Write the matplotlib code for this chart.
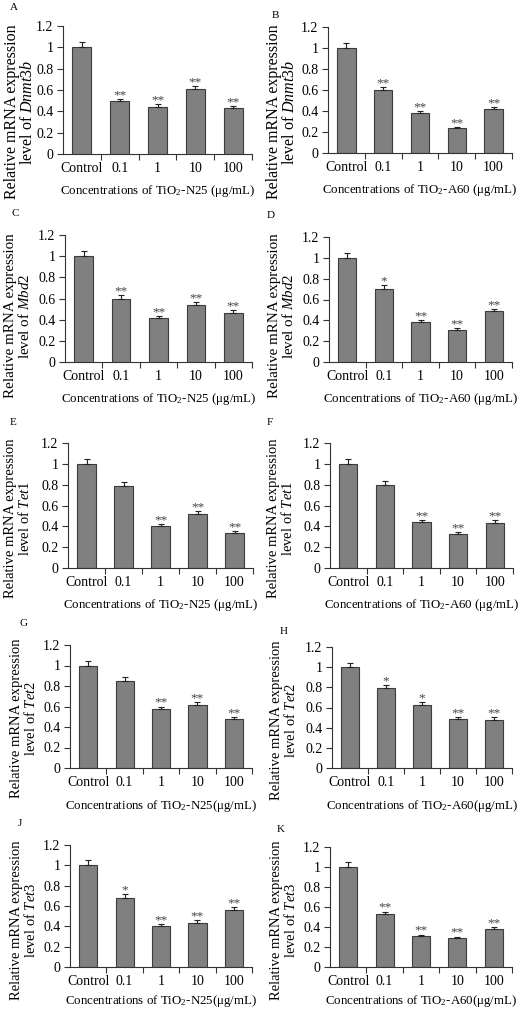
import matplotlib
matplotlib.use("Agg")
import matplotlib.pyplot as plt

plt.rcParams['font.family'] = ['Liberation Serif', 'DejaVu Serif']
plt.rcParams['mathtext.fontset'] = 'custom'
plt.rcParams['mathtext.rm'] = 'Liberation Serif'
plt.rcParams['mathtext.it'] = 'Liberation Serif:italic'

# dados
categories = ["Control", "0.1", "1", "10", "100"]
yticks = [0, 0.2, 0.4, 0.6, 0.8, 1.0, 1.2]
ytick_labels = ["0", "0.2", "0.4", "0.6", "0.8", "1", "1.2"]

dnmt3b_n25 = [1.00, 0.50, 0.44, 0.605, 0.43]
dnmt3b_n25_err = [0.05, 0.02, 0.025, 0.03, 0.02]
dnmt3b_n25_sig = ["", "**", "**", "**", "**"]

dnmt3b_a60 = [1.00, 0.60, 0.38, 0.24, 0.42]
dnmt3b_a60_err = [0.05, 0.03, 0.02, 0.01, 0.02]
dnmt3b_a60_sig = ["", "**", "**", "**", "**"]

mbd2_n25 = [1.00, 0.60, 0.415, 0.54, 0.465]
mbd2_n25_err = [0.05, 0.03, 0.02, 0.03, 0.025]
mbd2_n25_sig = ["", "**", "**", "**", "**"]

mbd2_a60 = [1.00, 0.70, 0.38, 0.31, 0.485]
mbd2_a60_err = [0.05, 0.035, 0.02, 0.015, 0.025]
mbd2_a60_sig = ["", "*", "**", "**", "**"]

tet1_n25 = [1.00, 0.79, 0.40, 0.52, 0.34]
tet1_n25_err = [0.05, 0.035, 0.02, 0.025, 0.015]
tet1_n25_sig = ["", "", "**", "**", "**"]

tet1_a60 = [1.00, 0.80, 0.44, 0.33, 0.435]
tet1_a60_err = [0.05, 0.035, 0.025, 0.015, 0.03]
tet1_a60_sig = ["", "", "**", "**", "**"]

tet2_n25 = [1.00, 0.85, 0.575, 0.61, 0.475]
tet2_n25_err = [0.045, 0.04, 0.025, 0.03, 0.025]
tet2_n25_sig = ["", "", "**", "**", "**"]

tet2_a60 = [1.00, 0.79, 0.625, 0.485, 0.48]
tet2_a60_err = [0.045, 0.035, 0.03, 0.025, 0.025]
tet2_a60_sig = ["", "*", "*", "**", "**"]

tet3_n25 = [1.00, 0.68, 0.40, 0.435, 0.565]
tet3_n25_err = [0.05, 0.035, 0.02, 0.025, 0.025]
tet3_n25_sig = ["", "*", "**", "**", "**"]

tet3_a60 = [1.00, 0.53, 0.31, 0.29, 0.38]
tet3_a60_err = [0.05, 0.025, 0.015, 0.015, 0.02]
tet3_a60_sig = ["", "**", "**", "**", "**"]

letters = ["A", "B", "C", "D", "E", "F", "G", "H", "J", "K"]
genes = ["Dnmt3b", "Dnmt3b", "Mbd2", "Mbd2", "Tet1", "Tet1", "Tet2", "Tet2", "Tet3", "Tet3"]
xlabels = ["Concentrations of TiO$_2$-N25 (\u03bcg/mL)", "Concentrations of TiO$_2$-A60 (\u03bcg/mL)",
           "Concentrations of TiO$_2$-N25 (\u03bcg/mL)", "Concentrations of TiO$_2$-A60 (\u03bcg/mL)",
           "Concentrations of TiO$_2$-N25 (\u03bcg/mL)", "Concentrations of TiO$_2$-A60 (\u03bcg/mL)",
           "Concentrations of TiO$_2$-N25(\u03bcg/mL)", "Concentrations of TiO$_2$-A60(\u03bcg/mL)",
           "Concentrations of TiO$_2$-N25(\u03bcg/mL)", "Concentrations of TiO$_2$-A60(\u03bcg/mL)"]
values = [dnmt3b_n25, dnmt3b_a60, mbd2_n25, mbd2_a60, tet1_n25, tet1_a60,
          tet2_n25, tet2_a60, tet3_n25, tet3_a60]
errors = [dnmt3b_n25_err, dnmt3b_a60_err, mbd2_n25_err, mbd2_a60_err, tet1_n25_err, tet1_a60_err,
          tet2_n25_err, tet2_a60_err, tet3_n25_err, tet3_a60_err]
signif = [dnmt3b_n25_sig, dnmt3b_a60_sig, mbd2_n25_sig, mbd2_a60_sig, tet1_n25_sig, tet1_a60_sig,
          tet2_n25_sig, tet2_a60_sig, tet3_n25_sig, tet3_a60_sig]

# layout em pixels (esquerda, topo, direita, base)
boxes = [(63, 26, 252, 154), (328, 27, 512, 153),
         (65, 235, 252, 362), (329, 237, 512, 362),
         (68, 443, 253, 568), (330, 443, 513, 568),
         (70, 645, 252, 768), (332, 647, 512, 768),
         (70, 845, 252, 967), (330, 847, 512, 967)]
letter_pos = [(10, 8), (272, 15), (12, 214), (267, 216), (10, 423), (267, 423),
              (20, 624), (280, 632), (18, 823), (277, 830)]
ylab_pos = [(20, 112), (282, 112), (18, 316), (282, 316), (18, 518), (281, 518),
            (24, 718), (284, 720), (24, 920), (284, 920)]
ylab_fs = [11.5, 11.5, 10.8, 10.8, 10.5, 10.5, 10.5, 10.5, 10.5, 10.5]
xlab_off = [37, 37, 37, 37, 37, 37, 38, 38, 34, 34]

W, H = 520, 1010
fig = plt.figure(figsize=(W / 100, H / 100), dpi=100)

for i in range(10):
    l, t, r, b = boxes[i]
    ax = fig.add_axes([l / W, 1 - b / H, (r - l) / W, (b - t) / H])
    x = list(range(len(categories)))
    ax.bar(x, values[i], width=0.5, color='#808080', edgecolor='#3c3c3c', linewidth=0.8,
           yerr=[[0] * 5, errors[i]], capsize=2.5,
           error_kw=dict(elinewidth=0.8, capthick=0.8, ecolor='#222222'))
    for xi, v, e, s in zip(x, values[i], errors[i], signif[i]):
        if s:
            ax.annotate(s, (xi, v + e), xytext=(0, 0.5), textcoords='offset points',
                        ha='center', va='baseline', fontsize=9.5, color='#444444')
    ax.set_xlim(-0.5, 4.5)
    ax.set_ylim(0, 1.2)
    ax.set_yticks(yticks)
    ax.set_yticklabels(ytick_labels, fontsize=10)
    ax.set_xticks(x)
    ax.set_xticklabels(categories, fontsize=10)
    ax.set_xticks([0.5, 1.5, 2.5, 3.5, 4.5], minor=True)
    ax.tick_params(axis='x', which='major', length=0, pad=6)
    ax.tick_params(axis='x', which='minor', length=4, direction='out', width=0.8, color='#333333')
    ax.tick_params(axis='y', length=4, direction='out', width=0.8, color='#333333', pad=3)
    ax.spines['top'].set_visible(False)
    ax.spines['right'].set_visible(False)
    for sp in ['left', 'bottom']:
        ax.spines[sp].set_linewidth(0.8)
        ax.spines[sp].set_color('#333333')
    ax.set_xlabel(xlabels[i], fontsize=9.3)
    ax.xaxis.set_label_coords(0.5, -xlab_off[i] / (b - t))
    ax.xaxis.label.set_va('center')

    fig.text(letter_pos[i][0] / W, 1 - letter_pos[i][1] / H, letters[i],
             fontsize=8, ha='left', va='center')
    fig.text(ylab_pos[i][0] / W, 1 - ylab_pos[i][1] / H,
             "Relative mRNA expression\nlevel of $\\mathit{" + genes[i] + "}$",
             rotation=90, ha='center', va='center', fontsize=ylab_fs[i], linespacing=1.0)

fig.savefig("out.png", dpi=100)
